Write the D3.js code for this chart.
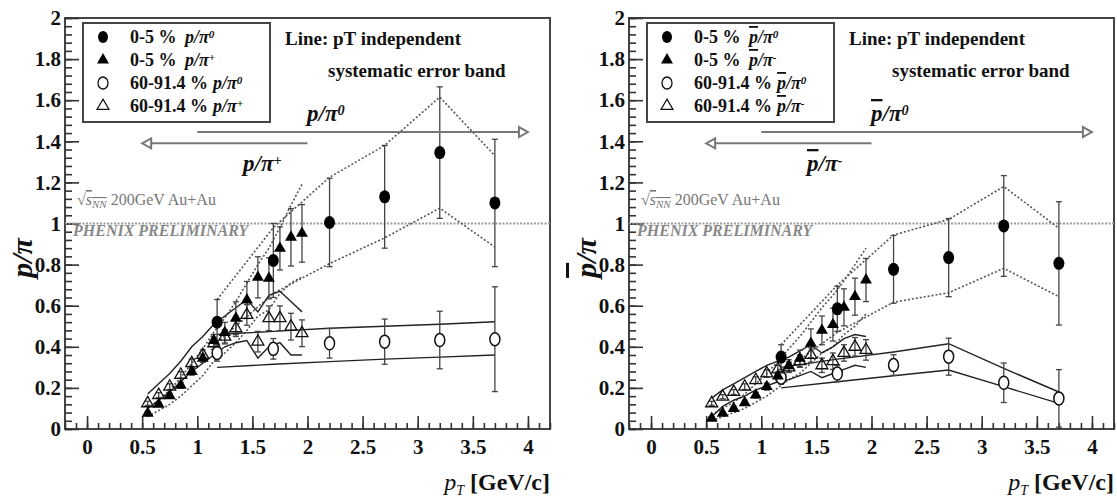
<!DOCTYPE html>
<html>
<head>
<meta charset="utf-8">
<script src="https://cdn.jsdelivr.net/npm/d3@7"></script>
<style>
  body { margin: 0; background: #fff; }
  svg text { font-family: "Liberation Serif", "DejaVu Serif", serif; }
</style>
</head>
<body>
<div id="main"></div>
<script>
// pT bins
var ptPi0 = [1.18, 1.69, 2.2, 2.7, 3.2, 3.7];
var ptPiCh = [0.55, 0.65, 0.75, 0.85, 0.95, 1.05, 1.15, 1.25, 1.35, 1.45, 1.55, 1.65, 1.75, 1.85, 1.95];

// left panel: p/pi
var pCentPi0 = [0.52, 0.82, 1.005, 1.13, 1.345, 1.10];
var pCentPi0Err = [0.11, 0.18, 0.215, 0.25, 0.32, 0.31];
var pCentPi0SysHi = [0.63, 0.98, 1.225, 1.38, 1.615, 1.33];
var pCentPi0SysLo = [0.42, 0.66, 0.805, 0.93, 1.075, 0.885];

var pCentPiCh = [0.076, 0.12, 0.162, 0.213, 0.279, 0.344, 0.43, 0.469, 0.539, 0.628, 0.738, 0.733, 0.879, 0.933, 0.952];
var pCentPiChErr = [0.01, 0.01, 0.012, 0.014, 0.017, 0.02, 0.03, 0.05, 0.08, 0.09, 0.1, 0.1, 0.105, 0.14, 0.14];
var pCentPiChSysHi = [0.10, 0.14, 0.19, 0.25, 0.32, 0.39, 0.47, 0.54, 0.62, 0.71, 0.80, 0.88, 0.98, 1.09, 1.19];
var pCentPiChSysLo = [0.06, 0.09, 0.12, 0.16, 0.21, 0.26, 0.33, 0.37, 0.42, 0.48, 0.55, 0.58, 0.66, 0.71, 0.74];

var pPeriPiCh = [0.125, 0.165, 0.206, 0.263, 0.32, 0.36, 0.417, 0.449, 0.49, 0.555, 0.425, 0.539, 0.539, 0.498, 0.466];
var pPeriPiChErr = [0.01, 0.012, 0.014, 0.016, 0.02, 0.025, 0.03, 0.035, 0.04, 0.05, 0.05, 0.06, 0.06, 0.065, 0.065];
var pPeriPiChSysHi = [0.17, 0.22, 0.27, 0.33, 0.40, 0.45, 0.51, 0.55, 0.59, 0.63, 0.57, 0.65, 0.67, 0.62, 0.57];
var pPeriPiChSysLo = [0.10, 0.14, 0.18, 0.23, 0.28, 0.32, 0.36, 0.40, 0.42, 0.43, 0.345, 0.40, 0.42, 0.36, 0.36];

var pPeriPi0 = [0.37, 0.39, 0.417, 0.425, 0.433, 0.437];
var pPeriPi0Err = [0.04, 0.05, 0.072, 0.11, 0.14, 0.255];
var pPeriPi0SysHi = [0.46, 0.475, 0.49, 0.50, 0.51, 0.522];
var pPeriPi0SysLo = [0.30, 0.315, 0.328, 0.34, 0.35, 0.36];

// right panel: pbar/pi
var pbCentPi0 = [0.35, 0.585, 0.777, 0.834, 0.988, 0.806];
var pbCentPi0Err = [0.06, 0.11, 0.165, 0.19, 0.245, 0.30];
var pbCentPi0SysHi = [0.41, 0.70, 0.944, 1.02, 1.18, 0.977];
var pbCentPi0SysLo = [0.27, 0.47, 0.617, 0.663, 0.782, 0.644];

var pbCentPiCh = [0.052, 0.076, 0.10, 0.128, 0.165, 0.206, 0.258, 0.307, 0.344, 0.417, 0.48, 0.508, 0.592, 0.644, 0.725];
var pbCentPiChErr = [0.008, 0.008, 0.01, 0.012, 0.014, 0.017, 0.02, 0.03, 0.04, 0.07, 0.07, 0.08, 0.09, 0.09, 0.105];
var pbCentPiChSysHi = [0.07, 0.10, 0.13, 0.17, 0.22, 0.27, 0.33, 0.39, 0.45, 0.52, 0.59, 0.65, 0.72, 0.80, 0.88];
var pbCentPiChSysLo = [0.04, 0.06, 0.08, 0.10, 0.13, 0.16, 0.20, 0.24, 0.27, 0.32, 0.37, 0.40, 0.46, 0.50, 0.56];

var pbPeriPiCh = [0.125, 0.157, 0.18, 0.206, 0.238, 0.27, 0.29, 0.30, 0.33, 0.36, 0.31, 0.33, 0.37, 0.40, 0.385];
var pbPeriPiChErr = [0.01, 0.01, 0.012, 0.014, 0.016, 0.018, 0.02, 0.025, 0.03, 0.035, 0.035, 0.04, 0.04, 0.045, 0.05];
var pbPeriPiChSysHi = [0.15, 0.19, 0.22, 0.25, 0.28, 0.31, 0.33, 0.35, 0.38, 0.41, 0.37, 0.40, 0.44, 0.46, 0.45];
var pbPeriPiChSysLo = [0.06, 0.11, 0.14, 0.16, 0.19, 0.21, 0.23, 0.24, 0.26, 0.28, 0.25, 0.27, 0.29, 0.31, 0.30];

var pbPeriPi0 = [0.25, 0.27, 0.311, 0.352, 0.225, 0.149];
var pbPeriPi0Err = [0.03, 0.04, 0.05, 0.09, 0.096, 0.14];
var pbPeriPi0SysHi = [0.30, 0.34, 0.375, 0.415, 0.295, 0.18];
var pbPeriPi0SysLo = [0.20, 0.23, 0.259, 0.287, 0.206, 0.125];

// ticks and legend text
var xMajorTicks = [0, 0.5, 1, 1.5, 2, 2.5, 3, 3.5, 4];
var yMajorTicks = [0, 0.2, 0.4, 0.6, 0.8, 1, 1.2, 1.4, 1.6, 1.8, 2];
var legendCent = ['0-5 %', '0-5 %', '60-91.4 %', '60-91.4 %'];
var legendSupLeft = ['0', '+', '0', '+'];
var legendSupRight = ['0', '-', '0', '-'];

var svgWidth = 1117, svgHeight = 500;
var svg = d3.select('#main').append('svg')
  .attr('width', svgWidth).attr('height', svgHeight);

var panels = [
  { left: 65, bar: false, sup: legendSupLeft, chSup: '+',
    cPi0: pCentPi0, cPi0E: pCentPi0Err, cPi0H: pCentPi0SysHi, cPi0L: pCentPi0SysLo,
    cCh: pCentPiCh, cChE: pCentPiChErr, cChH: pCentPiChSysHi, cChL: pCentPiChSysLo,
    pCh: pPeriPiCh, pChE: pPeriPiChErr, pChH: pPeriPiChSysHi, pChL: pPeriPiChSysLo,
    pPi0: pPeriPi0, pPi0E: pPeriPi0Err, pPi0H: pPeriPi0SysHi, pPi0L: pPeriPi0SysLo },
  { left: 629, bar: true, sup: legendSupRight, chSup: '-',
    cPi0: pbCentPi0, cPi0E: pbCentPi0Err, cPi0H: pbCentPi0SysHi, cPi0L: pbCentPi0SysLo,
    cCh: pbCentPiCh, cChE: pbCentPiChErr, cChH: pbCentPiChSysHi, cChL: pbCentPiChSysLo,
    pCh: pbPeriPiCh, pChE: pbPeriPiChErr, pChH: pbPeriPiChSysHi, pChL: pbPeriPiChSysLo,
    pPi0: pbPeriPi0, pPi0E: pbPeriPi0Err, pPi0H: pbPeriPi0SysHi, pPi0L: pbPeriPi0SysLo }
];

// writes "p/pi^sup" into a text element (p optionally with a bar)
function ratioLabel(t, bar, sup) {
  t.append('tspan').text('p').attr('text-decoration', bar ? 'overline' : null);
  t.append('tspan').text('/π');
  if (sup) t.append('tspan').text(sup).attr('dy', '-0.45em').attr('font-size', '0.62em');
}

panels.forEach(function(p) {
  var L = p.left;
  var g = svg.append('g');
  var x = d3.scaleLinear().domain([-0.2, 4.2]).range([L, L + 485]);
  var y = d3.scaleLinear().domain([0, 2]).range([429, 18]);
  var line = d3.line().x(function(d) { return x(d[0]); }).y(function(d) { return y(d[1]); });

  // frame
  g.append('rect')
    .attr('x', x(-0.2)).attr('y', y(2))
    .attr('width', x(4.2) - x(-0.2)).attr('height', y(0) - y(2))
    .attr('fill', 'none').attr('stroke', '#444').attr('stroke-width', 2);

  // axes, ticks pointing inward
  var xMinor = d3.range(-0.2, 4.21, 0.1);
  var yMinor = d3.range(0, 2.001, 0.04);
  g.append('g').attr('transform', 'translate(0,' + y(0) + ')')
    .call(d3.axisBottom(x).tickValues(xMinor).tickSize(-6).tickFormat(''))
    .call(function(a) { a.select('.domain').remove(); });
  g.append('g').attr('transform', 'translate(0,' + y(0) + ')')
    .call(d3.axisBottom(x).tickValues(xMajorTicks).tickSize(-13).tickPadding(10)
      .tickFormat(function(d) { return String(d); }))
    .call(function(a) { a.select('.domain').remove(); });
  g.append('g').attr('transform', 'translate(' + x(-0.2) + ',0)')
    .call(d3.axisLeft(y).tickValues(yMinor).tickSize(-7).tickFormat(''))
    .call(function(a) { a.select('.domain').remove(); });
  g.append('g').attr('transform', 'translate(' + x(-0.2) + ',0)')
    .call(d3.axisLeft(y).tickValues(yMajorTicks).tickSize(-14).tickPadding(4)
      .tickFormat(function(d) { return String(+d.toFixed(1)); }))
    .call(function(a) { a.select('.domain').remove(); });
  g.selectAll('.tick line').attr('stroke', '#333').attr('stroke-width', 1.6);
  g.selectAll('.tick text').attr('font-family', '"Liberation Serif", serif')
    .attr('font-weight', 'bold').attr('font-size', 21).attr('fill', '#111');

  // y = 1 reference
  g.append('line').attr('x1', x(-0.2)).attr('x2', x(4.2)).attr('y1', y(1)).attr('y2', y(1))
    .attr('stroke', '#999').attr('stroke-width', 2).attr('stroke-dasharray', '2,1.5');

  // axis titles
  var yt = g.append('text').attr('transform', 'translate(' + (L - 33) + ',258) rotate(-90)')
    .attr('text-anchor', 'middle').attr('font-size', 30).attr('font-weight', 'bold')
    .attr('font-style', 'italic').attr('fill', '#111');
  ratioLabel(yt, p.bar, null);
  var xt = g.append('text').attr('x', L + 485).attr('y', 490).attr('text-anchor', 'end')
    .attr('font-size', 24).attr('fill', '#111');
  xt.append('tspan').text('p').attr('font-style', 'italic');
  xt.append('tspan').text('T').attr('font-style', 'italic').attr('font-size', 14).attr('dy', 5);
  xt.append('tspan').text(' [GeV/c]').attr('font-weight', 'bold').attr('dy', -5);

  // systematic bands
  function band(xs, hi, lo, dotted) {
    [hi, lo].forEach(function(arr) {
      g.append('path').attr('d', line(d3.zip(xs, arr)))
        .attr('fill', 'none').attr('stroke', dotted ? '#555' : '#222')
        .attr('stroke-width', dotted ? 1.6 : 1.4)
        .attr('stroke-dasharray', dotted ? '2,2' : null);
    });
  }
  band(ptPi0, p.cPi0H, p.cPi0L, true);
  band(ptPiCh, p.cChH, p.cChL, true);
  band(ptPiCh, p.pChH, p.pChL, false);
  band(ptPi0, p.pPi0H, p.pPi0L, false);

  // error bars
  function errors(xs, vals, errs) {
    var eg = g.append('g').attr('stroke', '#444').attr('stroke-width', 1.3);
    xs.forEach(function(px, i) {
      var lo = Math.max(0, vals[i] - errs[i]), hi = vals[i] + errs[i];
      eg.append('line').attr('x1', x(px)).attr('x2', x(px)).attr('y1', y(lo)).attr('y2', y(hi));
      [lo, hi].forEach(function(v) {
        if (v <= 0) return;
        eg.append('line').attr('x1', x(px) - 3).attr('x2', x(px) + 3).attr('y1', y(v)).attr('y2', y(v));
      });
    });
  }
  errors(ptPi0, p.pPi0, p.pPi0E);
  errors(ptPiCh, p.pCh, p.pChE);
  errors(ptPiCh, p.cCh, p.cChE);
  errors(ptPi0, p.cPi0, p.cPi0E);

  var tri = d3.symbol().type(d3.symbolTriangle).size(62);
  // markers
  g.selectAll(null).data(d3.zip(ptPi0, p.pPi0)).enter().append('ellipse')
    .attr('cx', function(d) { return x(d[0]); }).attr('cy', function(d) { return y(d[1]); })
    .attr('rx', 5).attr('ry', 6.5).attr('fill', '#fff').attr('stroke', '#111').attr('stroke-width', 1.5);
  g.selectAll(null).data(d3.zip(ptPiCh, p.pCh)).enter().append('path')
    .attr('d', tri).attr('transform', function(d) { return 'translate(' + x(d[0]) + ',' + y(d[1]) + ')'; })
    .attr('fill', 'none').attr('stroke', '#111').attr('stroke-width', 1.3);
  g.selectAll(null).data(d3.zip(ptPiCh, p.cCh)).enter().append('path')
    .attr('d', tri).attr('transform', function(d) { return 'translate(' + x(d[0]) + ',' + y(d[1]) + ')'; })
    .attr('fill', '#000');
  g.selectAll(null).data(d3.zip(ptPi0, p.cPi0)).enter().append('ellipse')
    .attr('cx', function(d) { return x(d[0]); }).attr('cy', function(d) { return y(d[1]); })
    .attr('rx', 5.5).attr('ry', 6.5).attr('fill', '#000');

  // legend
  var lg = g.append('g');
  lg.append('rect').attr('x', L + 18).attr('y', 23).attr('width', 187).attr('height', 99)
    .attr('fill', '#fff').attr('stroke', '#444').attr('stroke-width', 2);
  legendCent.forEach(function(lab, i) {
    var by = 43 + i * 23, mx = L + 38, my = by - 6;
    if (i === 0) lg.append('ellipse').attr('cx', mx).attr('cy', my).attr('rx', 5).attr('ry', 6).attr('fill', '#000');
    if (i === 1) lg.append('path').attr('d', tri).attr('transform', 'translate(' + mx + ',' + my + ')').attr('fill', '#000');
    if (i === 2) lg.append('ellipse').attr('cx', mx).attr('cy', my).attr('rx', 5).attr('ry', 6)
      .attr('fill', 'none').attr('stroke', '#111').attr('stroke-width', 1.3);
    if (i === 3) lg.append('path').attr('d', tri).attr('transform', 'translate(' + mx + ',' + my + ')')
      .attr('fill', 'none').attr('stroke', '#111').attr('stroke-width', 1.2);
    lg.append('text').attr('x', L + 65).attr('y', by).attr('font-size', 18)
      .attr('font-weight', 'bold').attr('fill', '#111').text(lab);
    var rt = lg.append('text').attr('x', L + (i < 2 ? 120 : 148)).attr('y', by).attr('font-size', 18)
      .attr('font-weight', 'bold').attr('font-style', 'italic').attr('fill', '#111');
    ratioLabel(rt, p.bar, p.sup[i]);
  });

  g.append('text').attr('x', L + 220).attr('y', 45).attr('font-size', 19).attr('font-weight', 'bold')
    .attr('fill', '#111').text('Line: pT independent');
  g.append('text').attr('x', L + 263).attr('y', 77).attr('font-size', 19).attr('font-weight', 'bold')
    .attr('fill', '#111').text('systematic error band');

  // pT range arrows
  var ag = g.append('g').attr('stroke', '#777').attr('stroke-width', 2);
  var y0 = y(1.445), y1 = y(1.39);
  ag.append('line').attr('x1', x(1.0)).attr('x2', x(4.0) - 9).attr('y1', y0).attr('y2', y0);
  ag.append('path').attr('d', 'M' + x(4.0) + ',' + y0 + 'l-9,-5v10z').attr('fill', '#fff');
  ag.append('line').attr('x1', x(0.5) + 9).attr('x2', x(2.0)).attr('y1', y1).attr('y2', y1);
  ag.append('path').attr('d', 'M' + x(0.5) + ',' + y1 + 'l9,-5v10z').attr('fill', '#fff');
  var l0 = g.append('text').attr('x', L + 242).attr('y', 121).attr('font-size', 23)
    .attr('font-weight', 'bold').attr('font-style', 'italic').attr('fill', '#111');
  ratioLabel(l0, p.bar, '0');
  var l1 = g.append('text').attr('x', L + 178).attr('y', 171).attr('font-size', 23)
    .attr('font-weight', 'bold').attr('font-style', 'italic').attr('fill', '#111');
  ratioLabel(l1, p.bar, p.chSup);

  // energy and preliminary tags
  var st = g.append('text').attr('x', L + 12).attr('y', 205).attr('font-size', 16).attr('fill', '#777');
  st.append('tspan').text('√');
  st.append('tspan').text('s').attr('font-style', 'italic').attr('text-decoration', 'overline');
  st.append('tspan').text('NN').attr('font-style', 'italic').attr('font-size', 11).attr('dy', 3)
    .attr('text-decoration', 'overline');
  st.append('tspan').text('  200GeV Au+Au').attr('dy', -3);
  g.append('text').attr('x', L + 8).attr('y', 236).attr('font-size', 16).attr('font-weight', 'bold')
    .attr('font-style', 'italic').attr('fill', '#888').text('PHENIX PRELIMINARY');
});
</script>
</body>
</html>
